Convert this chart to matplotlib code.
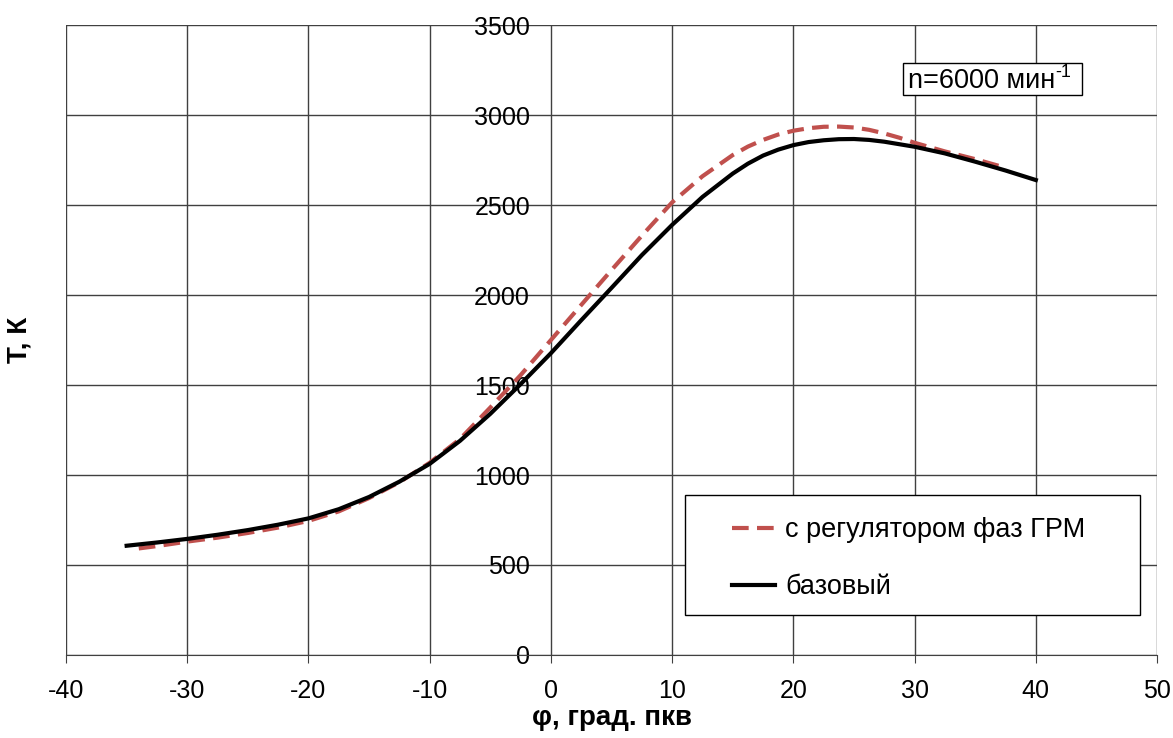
import matplotlib.pyplot as plt
from matplotlib.patches import Rectangle

plt.rcParams['font.family'] = ['Liberation Sans', 'DejaVu Sans']
plt.rcParams['axes.unicode_minus'] = False

# base engine
phi_base = [-35, -32.5, -30, -27.5, -25, -22.5, -20, -17.5, -15, -12.5, -10, -7.5, -5, -2.5,
            0, 2.5, 5, 7.5, 10, 12.5, 15, 16.25, 17.5, 18.75, 20, 21.25, 22.5, 23.75, 25,
            26.25, 27.5, 28.75, 30, 32.5, 35, 37.5, 40]
T_base = [607, 625, 645, 668, 694, 724, 759, 810, 878, 963, 1062, 1190, 1340, 1505,
          1677, 1860, 2040, 2222, 2390, 2545, 2675, 2730, 2775, 2808, 2833, 2850, 2860, 2866, 2867,
          2862, 2852, 2838, 2824, 2787, 2741, 2692, 2639]

# with cam phaser
phi_reg = [-34, -32.5, -30, -27.5, -25, -22.5, -20, -17.5, -15, -12.5, -10, -7.5, -5, -2.5,
           0, 2.5, 5, 7.5, 10, 12.5, 15, 16.25, 17.5, 18.75, 20, 21.25, 22.5, 23.75, 25,
           26.25, 27.5, 28.75, 30, 32.5, 35, 37]
T_reg = [592, 605, 630, 652, 678, 708, 745, 798, 872, 960, 1068, 1200, 1375, 1555,
         1750, 1945, 2139, 2330, 2515, 2660, 2778, 2825, 2862, 2892, 2913, 2927, 2935, 2936, 2931,
         2918, 2898, 2874, 2846, 2798, 2755, 2717]

fig = plt.figure(figsize=(11.73, 7.38), dpi=100)
ax = fig.add_axes([0.0563, 0.1125, 0.9301, 0.8535])

ax.plot(phi_reg, T_reg, color='#c0504d', lw=3, dashes=(4, 2), label='с регулятором фаз ГРМ')
ax.plot(phi_base, T_base, color='black', lw=3, label='базовый')

ax.set_xlim(-40, 50)
ax.set_ylim(0, 3500)
ax.set_xticks(range(-40, 51, 10))
ax.set_yticks(range(0, 3501, 500))
ax.grid(True, color='#404040', lw=1)

for s in ['top', 'right', 'left']:
    ax.spines[s].set_visible(False)
ax.spines['bottom'].set_color('#404040')
ax.spines['left'].set_position(('data', 0))

ax.tick_params(axis='x', direction='out', length=6, color='#404040', labelsize=18, pad=11)
ax.tick_params(axis='y', length=0, labelsize=18, pad=15)

ax.set_xlabel('φ, град. пкв', fontsize=20, fontweight='bold')
ax.xaxis.set_label_coords(0.5, -0.08)
ax.set_ylabel('T, К', fontsize=20, fontweight='bold')
ax.yaxis.set_label_coords(-0.031, 0.5)

# legend box
ax.add_patch(Rectangle((0.5674, 0.0635), 0.417, 0.1905, transform=ax.transAxes,
                       fc='white', ec='black', lw=1, zorder=4.5))
leg = ax.legend(loc='center left', bbox_to_anchor=(0.6104, 0.1525), fontsize=19.5,
                frameon=False, handlelength=1.6, handletextpad=0.37,
                borderpad=0, labelspacing=1.15, borderaxespad=0)
leg.set_zorder(5)

# speed label
ax.add_patch(Rectangle((0.7672, 0.8889), 0.164, 0.0508, transform=ax.transAxes,
                       fc='white', ec='black', lw=1, zorder=4.5))
txt = ax.text(0.7718, 0.912, 'n=6000 мин', transform=ax.transAxes, fontsize=19.5,
              ha='left', va='center', zorder=5)
ax.annotate('-1', xy=(1.0, 0.8), xycoords=txt, fontsize=13, ha='left', va='center', zorder=5)

fig.savefig('out.png', dpi=100)
